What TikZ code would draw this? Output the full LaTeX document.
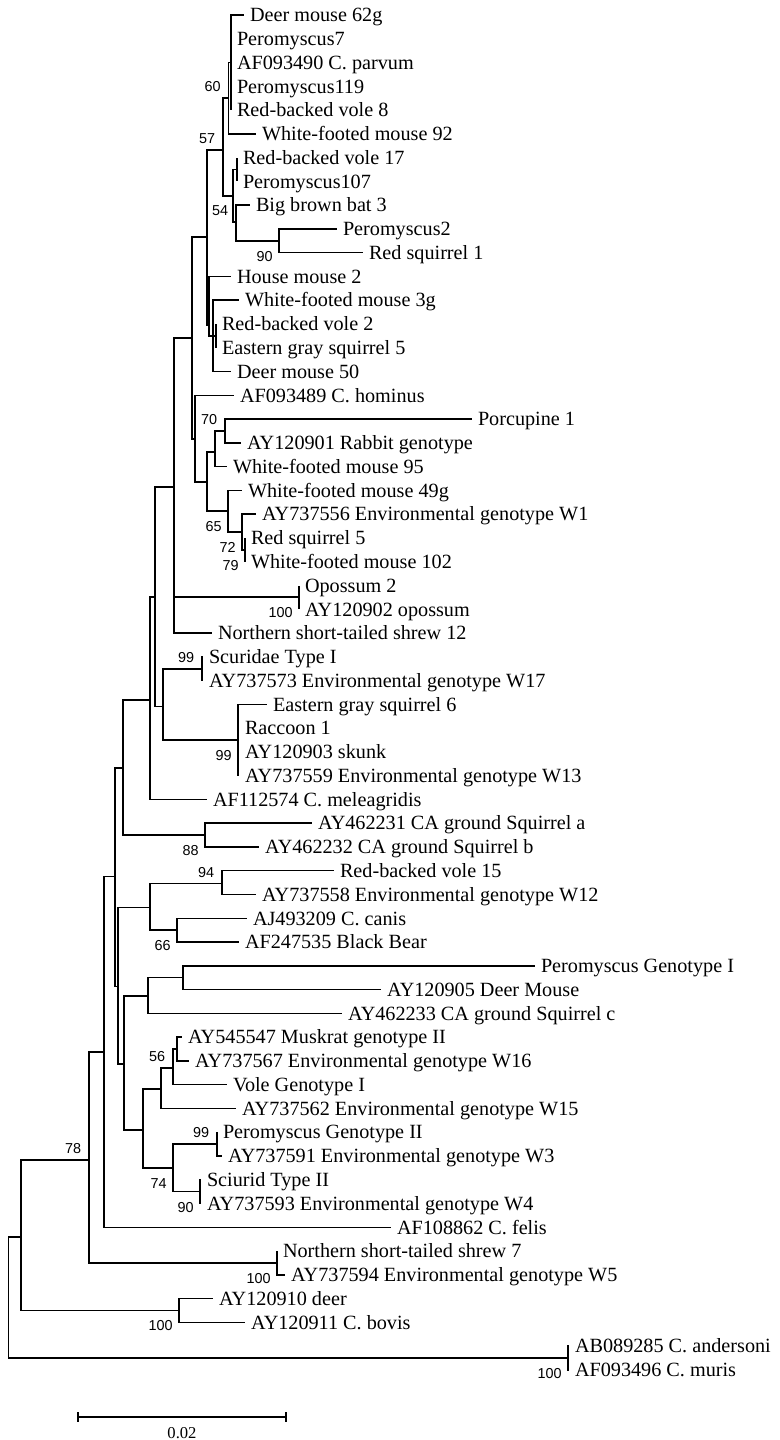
\documentclass[tikz,border=0pt]{standalone}
\usepackage{fontspec}
\setmainfont{Liberation Serif}
\newfontfamily\bootfont{Liberation Sans}
\tikzset{
  branch/.style={line width=0.75pt},
  leaf/.style={anchor=base west, inner xsep=2.8pt, inner ysep=0pt, yshift=-3.35pt, font=\fontsize{10.1}{12}\selectfont},
  boot/.style={anchor=east, inner sep=0pt, font=\bootfont\fontsize{7.2}{8}\selectfont},
  bootup/.style={boot, xshift=-3.75pt, yshift=5.5pt},
  bootdown/.style={boot, xshift=-3pt, yshift=-7.75pt}
}
\begin{document}
\begin{tikzpicture}[x=0.5pt,y=-0.5pt]
\useasboundingbox (0,0) rectangle (780,1440);
% inner nodes
\coordinate (root) at (8.5,1298);
\coordinate (n21) at (21,1237);
\coordinate (bovis) at (179,1310.5);
\coordinate (muris) at (568,1358);
\coordinate (b78) at (89,1160);
\coordinate (shrew) at (277,1263);
\coordinate (n104) at (104,1052);
\coordinate (na) at (115,876.5);
\coordinate (nc) at (123,768);
\coordinate (casq) at (205,835);
\coordinate (nd) at (150,700);
\coordinate (ne) at (155,597);
\coordinate (nf) at (163,706.5);
\coordinate (scur) at (202,669);
\coordinate (racc) at (238,740);
\coordinate (ng) at (174,487);
\coordinate (opos) at (299,597);
\coordinate (nj) at (192,338);
\coordinate (ni) at (195,439);
\coordinate (nh) at (207,482);
\coordinate (n215) at (215,452);
\coordinate (b70) at (225,431);
\coordinate (b65) at (228,511);
\coordinate (b72) at (242,532);
\coordinate (b79) at (245,550);
\coordinate (nm) at (207,237);
\coordinate (nl) at (209,325);
\coordinate (nk) at (213,336);
\coordinate (nk2) at (216,336);
\coordinate (b57) at (223,150);
\coordinate (b60) at (228.5,98);
\coordinate (nx) at (231,62.5);
\coordinate (nn) at (233,196);
\coordinate (nrp) at (237,169.5);
\coordinate (b54) at (236,222);
\coordinate (b90) at (279,240.8);
\coordinate (nb) at (118,986.5);
\coordinate (n150) at (150,907.5);
\coordinate (b94) at (222,883.6);
\coordinate (b66) at (177,930);
\coordinate (n124) at (124,1064);
\coordinate (n148) at (148,996);
\coordinate (pg1) at (183,977.7);
\coordinate (n143) at (143,1130);
\coordinate (n161) at (161,1089);
\coordinate (b56) at (173,1068);
\coordinate (n177) at (177,1049);
\coordinate (b74) at (173,1168);
\coordinate (pg2) at (217,1144);
\coordinate (sci) at (200,1191.7);
% leaves
\coordinate (l01) at (244,15.0); \node[leaf] (t01) at (l01) {Deer mouse 62g};
\coordinate (l02) at (231,38.8); \node[leaf] (t02) at (l02) {Peromyscus7};
\coordinate (l03) at (231,62.5); \node[leaf] (t03) at (l03) {AF093490 C. parvum};
\coordinate (l04) at (231,86.3); \node[leaf] (t04) at (l04) {Peromyscus119};
\coordinate (l05) at (231,110.1); \node[leaf] (t05) at (l05) {Red-backed vole 8};
\coordinate (l06) at (256,133.9); \node[leaf] (t06) at (l06) {White-footed mouse 92};
\coordinate (l07) at (237,157.6); \node[leaf] (t07) at (l07) {Red-backed vole 17};
\coordinate (l08) at (237,181.4); \node[leaf] (t08) at (l08) {Peromyscus107};
\coordinate (l09) at (250,205.2); \node[leaf] (t09) at (l09) {Big brown bat 3};
\coordinate (l10) at (337,228.9); \node[leaf] (t10) at (l10) {Peromyscus2};
\coordinate (l11) at (363,252.7); \node[leaf] (t11) at (l11) {Red squirrel 1};
\coordinate (l12) at (231,276.5); \node[leaf] (t12) at (l12) {House mouse 2};
\coordinate (l13) at (239,300.2); \node[leaf] (t13) at (l13) {White-footed mouse 3g};
\coordinate (l14) at (216,324.0); \node[leaf] (t14) at (l14) {Red-backed vole 2};
\coordinate (l15) at (216,347.8); \node[leaf] (t15) at (l15) {Eastern gray squirrel 5};
\coordinate (l16) at (231,371.6); \node[leaf] (t16) at (l16) {Deer mouse 50};
\coordinate (l17) at (234,395.3); \node[leaf] (t17) at (l17) {AF093489 C. hominus};
\coordinate (l18) at (472,419.1); \node[leaf] (t18) at (l18) {Porcupine 1};
\coordinate (l19) at (241,442.9); \node[leaf] (t19) at (l19) {AY120901 Rabbit genotype};
\coordinate (l20) at (227,466.6); \node[leaf] (t20) at (l20) {White-footed mouse 95};
\coordinate (l21) at (242,490.4); \node[leaf] (t21) at (l21) {White-footed mouse 49g};
\coordinate (l22) at (256,514.2); \node[leaf] (t22) at (l22) {AY737556 Environmental genotype W1};
\coordinate (l23) at (245,538.0); \node[leaf] (t23) at (l23) {Red squirrel 5};
\coordinate (l24) at (245,561.7); \node[leaf] (t24) at (l24) {White-footed mouse 102};
\coordinate (l25) at (299,585.5); \node[leaf] (t25) at (l25) {Opossum 2};
\coordinate (l26) at (299,609.3); \node[leaf] (t26) at (l26) {AY120902 opossum};
\coordinate (l27) at (212,633.0); \node[leaf] (t27) at (l27) {Northern short-tailed shrew 12};
\coordinate (l28) at (203,656.8); \node[leaf] (t28) at (l28) {Scuridae Type I};
\coordinate (l29) at (203,680.6); \node[leaf] (t29) at (l29) {AY737573 Environmental genotype W17};
\coordinate (l30) at (267,704.3); \node[leaf] (t30) at (l30) {Eastern gray squirrel 6};
\coordinate (l31) at (239,728.1); \node[leaf] (t31) at (l31) {Raccoon 1};
\coordinate (l32) at (239,751.9); \node[leaf] (t32) at (l32) {AY120903 skunk};
\coordinate (l33) at (239,775.7); \node[leaf] (t33) at (l33) {AY737559 Environmental genotype W13};
\coordinate (l34) at (207,799.4); \node[leaf] (t34) at (l34) {AF112574 C. meleagridis};
\coordinate (l35) at (312,823.2); \node[leaf] (t35) at (l35) {AY462231 CA ground Squirrel a};
\coordinate (l36) at (259,847.0); \node[leaf] (t36) at (l36) {AY462232 CA ground Squirrel b};
\coordinate (l37) at (334,870.7); \node[leaf] (t37) at (l37) {Red-backed vole 15};
\coordinate (l38) at (256,894.5); \node[leaf] (t38) at (l38) {AY737558 Environmental genotype W12};
\coordinate (l39) at (247,918.3); \node[leaf] (t39) at (l39) {AJ493209 C. canis};
\coordinate (l40) at (239,942.0); \node[leaf] (t40) at (l40) {AF247535 Black Bear};
\coordinate (l41) at (535,965.8); \node[leaf] (t41) at (l41) {Peromyscus Genotype I};
\coordinate (l42) at (381,989.6); \node[leaf] (t42) at (l42) {AY120905 Deer Mouse};
\coordinate (l43) at (342,1013.4); \node[leaf] (t43) at (l43) {AY462233 CA ground Squirrel c};
\coordinate (l44) at (182,1037.1); \node[leaf] (t44) at (l44) {AY545547 Muskrat genotype II};
\coordinate (l45) at (189,1060.9); \node[leaf] (t45) at (l45) {AY737567 Environmental genotype W16};
\coordinate (l46) at (227,1084.7); \node[leaf] (t46) at (l46) {Vole Genotype I};
\coordinate (l47) at (236,1108.4); \node[leaf] (t47) at (l47) {AY737562 Environmental genotype W15};
\coordinate (l48) at (217,1132.2); \node[leaf] (t48) at (l48) {Peromyscus Genotype II};
\coordinate (l49) at (222,1156.0); \node[leaf] (t49) at (l49) {AY737591 Environmental genotype W3};
\coordinate (l50) at (201,1179.8); \node[leaf] (t50) at (l50) {Sciurid Type II};
\coordinate (l51) at (201,1203.5); \node[leaf] (t51) at (l51) {AY737593 Environmental genotype W4};
\coordinate (l52) at (391,1227.3); \node[leaf] (t52) at (l52) {AF108862 C. felis};
\coordinate (l53) at (277,1251.1); \node[leaf] (t53) at (l53) {Northern short-tailed shrew 7};
\coordinate (l54) at (285,1274.8); \node[leaf] (t54) at (l54) {AY737594 Environmental genotype W5};
\coordinate (l55) at (213,1298.6); \node[leaf] (t55) at (l55) {AY120910 deer};
\coordinate (l56) at (245,1322.4); \node[leaf] (t56) at (l56) {AY120911 C. bovis};
\coordinate (l57) at (569,1346.2); \node[leaf] (t57) at (l57) {AB089285 C. andersoni};
\coordinate (l58) at (569,1369.9); \node[leaf] (t58) at (l58) {AF093496 C. muris};
% branches
\draw[branch] (root) |- (n21) (root) |- (muris);
\draw[branch] (n21) |- (b78) (n21) |- (bovis);
\draw[branch] (bovis) |- (l55) (bovis) |- (l56);
\draw[branch] (muris) |- (l57) (muris) |- (l58);
\draw[branch] (b78) |- (n104) (b78) |- (shrew);
\draw[branch] (shrew) |- (l53) (shrew) |- (l54);
\draw[branch] (n104) |- (na) (n104) |- (l52);
\draw[branch] (na) |- (nc) (na) |- (nb);
\draw[branch] (nc) |- (nd) (nc) |- (casq);
\draw[branch] (casq) |- (l35) (casq) |- (l36);
\draw[branch] (nd) |- (ne) (nd) |- (l34);
\draw[branch] (ne) |- (ng) (ne) |- (nf);
\draw[branch] (nf) |- (scur) (nf) |- (racc);
\draw[branch] (scur) |- (l28) (scur) |- (l29);
\draw[branch] (racc) |- (l30) (racc) |- (l31) (racc) |- (l32) (racc) |- (l33);
\draw[branch] (ng) |- (nj) (ng) |- (opos) (ng) |- (l27);
\draw[branch] (opos) |- (l25) (opos) |- (l26);
\draw[branch] (nj) |- (nm) (nj) |- (ni);
\draw[branch] (ni) |- (l17) (ni) |- (nh);
\draw[branch] (nh) |- (n215) (nh) |- (b65);
\draw[branch] (n215) |- (b70) (n215) |- (l20);
\draw[branch] (b70) |- (l18) (b70) |- (l19);
\draw[branch] (b65) |- (l21) (b65) |- (b72);
\draw[branch] (b72) |- (l22) (b72) |- (b79);
\draw[branch] (b79) |- (l23) (b79) |- (l24);
\draw[branch] (nm) |- (b57) (nm) |- (nl);
\draw[branch] (nl) |- (l12) (nl) |- (nk);
\draw[branch] (nk) |- (l13) (nk) |- (nk2) (nk) |- (l16);
\draw[branch] (nk2) |- (l14) (nk2) |- (l15);
\draw[branch] (b57) |- (b60) (b57) |- (nn);
\draw[branch] (b60) |- (nx) (b60) |- (l06);
\draw[branch] (nx) |- (l01) (nx) |- (l02) (nx) |- (l03) (nx) |- (l04) (nx) |- (l05);
\draw[branch] (nn) |- (nrp) (nn) |- (b54);
\draw[branch] (nrp) |- (l07) (nrp) |- (l08);
\draw[branch] (b54) |- (l09) (b54) |- (b90);
\draw[branch] (b90) |- (l10) (b90) |- (l11);
\draw[branch] (nb) |- (n150) (nb) |- (n124);
\draw[branch] (n150) |- (b94) (n150) |- (b66);
\draw[branch] (b94) |- (l37) (b94) |- (l38);
\draw[branch] (b66) |- (l39) (b66) |- (l40);
\draw[branch] (n124) |- (n148) (n124) |- (n143);
\draw[branch] (n148) |- (pg1) (n148) |- (l43);
\draw[branch] (pg1) |- (l41) (pg1) |- (l42);
\draw[branch] (n143) |- (n161) (n143) |- (b74);
\draw[branch] (n161) |- (b56) (n161) |- (l47);
\draw[branch] (b56) |- (n177) (b56) |- (l46);
\draw[branch] (n177) |- (l44) (n177) |- (l45);
\draw[branch] (b74) |- (pg2) (b74) |- (sci);
\draw[branch] (pg2) |- (l48) (pg2) |- (l49);
\draw[branch] (sci) |- (l50) (sci) |- (l51);
% bootstrap values
\node[bootup] (v60) at (b60) {60};
\node[bootup] (v57) at (b57) {57};
\node[bootup] (v54) at (b54) {54};
\node[bootdown] (v90a) at (b90) {90};
\node[bootup] (v70) at (b70) {70};
\node[bootdown] (v65) at (b65) {65};
\node[bootdown] (v72) at (b72) {72};
\node[bootdown] (v79) at (b79) {79};
\node[bootdown] (v100a) at (opos) {100};
\node[bootup] (v99a) at (scur) {99};
\node[bootdown] (v99b) at (racc) {99};
\node[bootdown] (v88) at (casq) {88};
\node[bootup] (v94) at (b94) {94};
\node[bootdown] (v66) at (b66) {66};
\node[bootup] (v56) at (b56) {56};
\node[bootup] (v99c) at (pg2) {99};
\node[bootdown] (v74) at (b74) {74};
\node[bootdown] (v90b) at (sci) {90};
\node[bootup] (v78) at (b78) {78};
\node[bootdown] (v100b) at (shrew) {100};
\node[bootdown] (v100c) at (bovis) {100};
\node[bootdown] (v100d) at (muris) {100};
% scale bar
\coordinate (sbl) at (78,1417);
\coordinate (sbr) at (286,1417);
\draw[line width=0.9pt] (sbl) -- (sbr);
\draw[line width=0.75pt] ([yshift=2.5pt]sbl) -- ([yshift=-2.5pt]sbl);
\draw[line width=0.75pt] ([yshift=2.5pt]sbr) -- ([yshift=-2.5pt]sbr);
\node[font=\fontsize{8.3}{10}\selectfont, inner sep=0pt] (sbtext) at (182,1433) {0.02};
\end{tikzpicture}
\end{document}
